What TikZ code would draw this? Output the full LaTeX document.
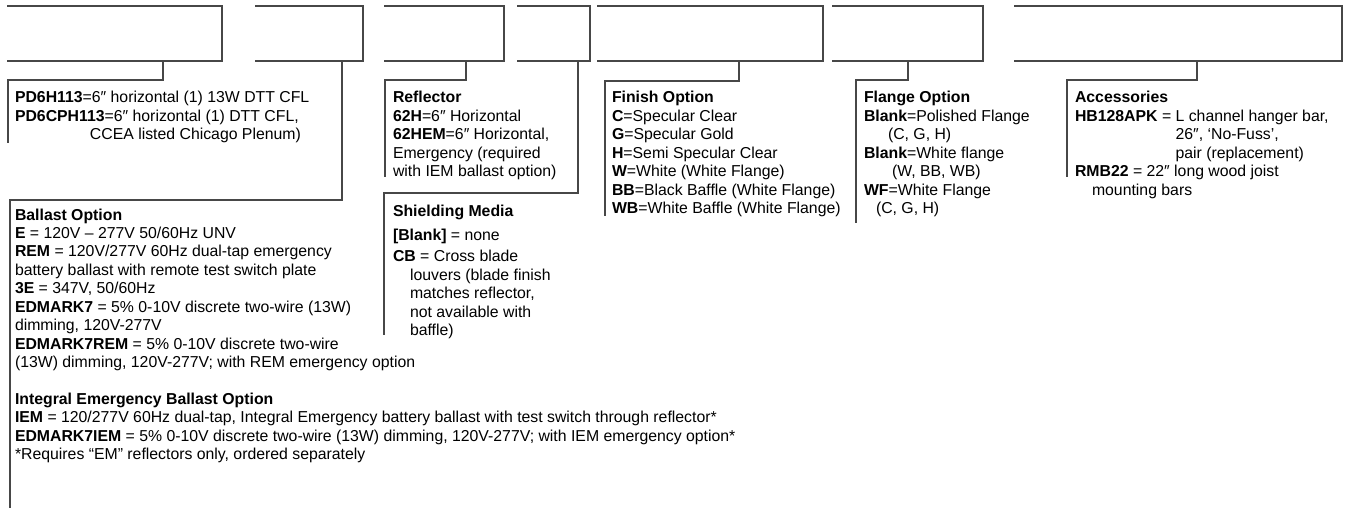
\documentclass[tikz,border=0pt]{standalone}
\usepackage{fontspec}
\setmainfont{Liberation Sans}
\usetikzlibrary{fit}
\newcommand\blk[1]{\begin{tabular}[t]{@{}l@{}}#1\end{tabular}}
\begin{document}
\begin{tikzpicture}[x=0.02cm,y=-0.02cm,
  ln/.style={draw=black!72,line width=0.6pt},
  box/.style={inner sep=0pt,outer sep=0pt},
  txt/.style={anchor=base west,inner sep=0pt,outer sep=0pt,font=\fontsize{9}{10.5}\selectfont}]
\useasboundingbox (0,0) rectangle (1372,513);
% code boxes (open on the left)
\node[box,fit={(7,6) (222,61)}] (b1) {};
\node[box,fit={(255,6) (363,61)}] (b2) {};
\node[box,fit={(384,6) (504,61)}] (b3) {};
\node[box,fit={(517,6) (590,61)}] (b4) {};
\node[box,fit={(597,6) (823,61)}] (b5) {};
\node[box,fit={(832,6) (983,61)}] (b6) {};
\node[box,fit={(1014,6) (1342,61)}] (b7) {};
\foreach \b in {b1,b2,b3,b4,b5,b6,b7}
  \draw[ln] (\b.north west) -- (\b.north east) -- (\b.south east) -- (\b.south west);
% connector corners and bar ends
\coordinate (s1) at (163,80);  \coordinate (e1) at (8,143);
\coordinate (s2) at (342,200); \coordinate (e2) at (10,508);
\coordinate (s3) at (466,80);  \coordinate (e3) at (385,177);
\coordinate (s4) at (578,193); \coordinate (e4) at (384,335);
\coordinate (s5) at (739,81);  \coordinate (e5) at (605,216);
\coordinate (s6) at (908,80);  \coordinate (e6) at (856,223);
\coordinate (s7) at (1197,80); \coordinate (e7) at (1067,177);
\foreach \i in {1,...,7}
  \draw[ln] (b\i.south -| s\i) -- (s\i) -| (e\i);
% text blocks
\node[txt] (t1) at (15,103) {\blk{%
\textbf{PD6H113}=6″ horizontal (1) 13W DTT CFL\\
\textbf{PD6CPH113}=6″ horizontal (1) DTT CFL,\\
\hspace*{1.5cm}CCEA listed Chicago Plenum)}};
\node[txt] (t2) at (15,220) {\blk{%
\textbf{Ballast Option}\\
\textbf{E} = 120V – 277V 50/60Hz UNV\\
\textbf{REM} = 120V/277V 60Hz dual-tap emergency\\
battery ballast with remote test switch plate\\
\textbf{3E} = 347V, 50/60Hz\\
\textbf{EDMARK7} = 5\% 0-10V discrete two-wire (13W)\\
dimming, 120V-277V\\
\textbf{EDMARK7REM} = 5\% 0-10V discrete two-wire\\
(13W) dimming, 120V-277V; with REM emergency option\\
\\
\textbf{Integral Emergency Ballast Option}\\
\textbf{IEM} = 120/277V 60Hz dual-tap, Integral Emergency battery ballast with test switch through reflector*\\
\textbf{EDMARK7IEM} = 5\% 0-10V discrete two-wire (13W) dimming, 120V-277V; with IEM emergency option*\\
{*}Requires “EM” reflectors only, ordered separately}};
\node[txt] (t3) at (393,103) {\blk{%
\textbf{Reflector}\\
\textbf{62H}=6″ Horizontal\\
\textbf{62HEM}=6″ Horizontal,\\
Emergency (required\\
with IEM ballast option)}};
\node[txt] (t4) at (393,216) {\blk{%
\textbf{Shielding Media}\\[3.3pt]
\textbf{[Blank]} = none\\[1.8pt]
\textbf{CB} = Cross blade\\
\hspace*{0.34cm}louvers (blade finish\\
\hspace*{0.34cm}matches reflector,\\
\hspace*{0.34cm}not available with\\
\hspace*{0.34cm}baffle)}};
\node[txt] (t5) at (612,103) {\blk{%
\textbf{Finish Option}\\
\textbf{C}=Specular Clear\\
\textbf{G}=Specular Gold\\
\textbf{H}=Semi Specular Clear\\
\textbf{W}=White (White Flange)\\
\textbf{BB}=Black Baffle (White Flange)\\
\textbf{WB}=White Baffle (White Flange)}};
\node[txt] (t6) at (864,103) {\blk{%
\textbf{Flange Option}\\
\textbf{Blank}=Polished Flange\\
\hspace*{0.48cm}(C, G, H)\\
\textbf{Blank}=White flange\\
\hspace*{0.56cm}(W, BB, WB)\\
\textbf{WF}=White Flange\\
\hspace*{0.24cm}(C, G, H)}};
\node[txt] (t7) at (1075,103) {\blk{%
\textbf{Accessories}\\
\textbf{HB128APK} = L channel hanger bar,\\
\phantom{\textbf{HB128APK} = }26″, ‘No-Fuss’,\\
\phantom{\textbf{HB128APK} = }pair (replacement)\\
\textbf{RMB22} = 22″ long wood joist\\
\hspace*{0.34cm}mounting bars}};
\end{tikzpicture}
\end{document}
